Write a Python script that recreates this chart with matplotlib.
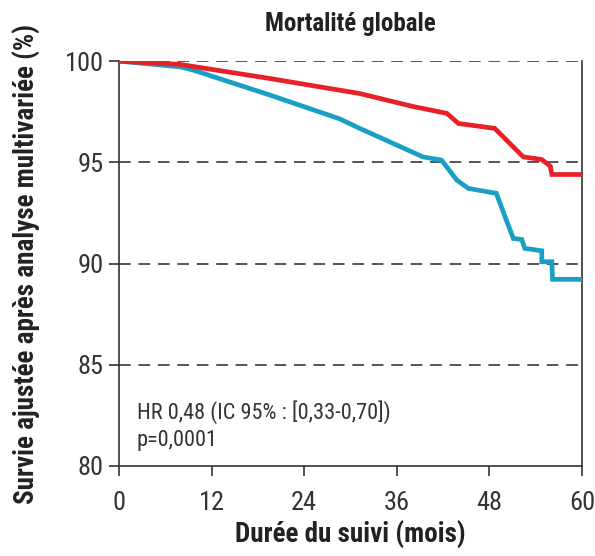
import matplotlib
matplotlib.use("Agg")
import matplotlib.pyplot as plt
from matplotlib import font_manager

# survival curves, months of follow-up vs adjusted survival (%)
months_red = [0, 7.9, 19.6, 31.2, 38.1, 42.5, 44.0, 48.7, 52.4, 54.8, 55.9, 56.1, 60]
surv_red = [100, 99.84, 99.14, 98.40, 97.76, 97.42, 96.92, 96.68, 95.27, 95.14, 94.81, 94.40, 94.40]

months_blue = [0, 7.9, 9.6, 19.6, 28.6, 31.2, 39.4, 41.8, 43.8, 45.3, 48.9, 51.1, 52.2,
               52.6, 54.8, 54.8, 56.1, 56.2, 60]
surv_blue = [100, 99.72, 99.56, 98.32, 97.15, 96.68, 95.27, 95.11, 94.12, 93.71, 93.47, 91.24,
             91.19, 90.75, 90.63, 90.09, 90.09, 89.22, 89.22]

x_ticks = [0, 12, 24, 36, 48, 60]
y_ticks = [80, 85, 90, 95, 100]

# pick a narrow sans with a bold weight
bold_ok = {f.name for f in font_manager.fontManager.ttflist if f.weight in (700, "bold")}
stretch = "normal"
for cand in ["Liberation Sans Narrow", "Roboto Condensed", "Archivo Narrow"]:
    if cand in bold_ok:
        family = cand
        break
else:
    family = "DejaVu Sans"
    stretch = "condensed"
plt.rcParams["font.family"] = [family, "DejaVu Sans"]
plt.rcParams["font.stretch"] = stretch

fig = plt.figure(figsize=(5.95, 5.56), dpi=100)
ax = fig.add_axes([0.200, 0.162, 0.778, 0.728])

for y in [85, 90, 95, 100]:
    ax.axhline(y, color="#555555", lw=1.4, ls=(0, (6, 4)), zorder=1)

ax.plot(months_blue, surv_blue, color="#1a9fc4", lw=3.4, solid_joinstyle="miter", zorder=3)
ax.plot(months_red, surv_red, color="#e8202a", lw=3.4, solid_joinstyle="miter", zorder=4)

ax.set_xlim(0, 60)
ax.set_ylim(80, 100)
ax.set_xticks(x_ticks)
ax.set_yticks(y_ticks)
ax.tick_params(labelsize=19, colors="#333333", length=7, width=1.2)
ax.tick_params(axis="x", pad=11)
ax.tick_params(axis="y", pad=4)
ax.spines["top"].set_visible(False)
for s in ["left", "bottom", "right"]:
    ax.spines[s].set_color("#333333")
    ax.spines[s].set_linewidth(1.2)

ax.set_title("Mortalité globale", fontsize=18, fontweight="bold", color="#222222", pad=22)
ax.set_xlabel("Durée du suivi (mois)", fontsize=19.5, fontweight="bold", color="#222222", labelpad=4)
ax.set_ylabel("Survie ajustée après analyse multivariée (%)", fontsize=19.5,
              fontweight="bold", color="#222222", labelpad=17)

ax.text(2.3, 82.65, "HR 0,48 (IC 95% : [0,33-0,70])", fontsize=16, color="#333333", va="center")
ax.text(2.3, 81.25, "p=0,0001", fontsize=16, color="#333333", va="center")

fig.savefig("out.png", dpi=100)
